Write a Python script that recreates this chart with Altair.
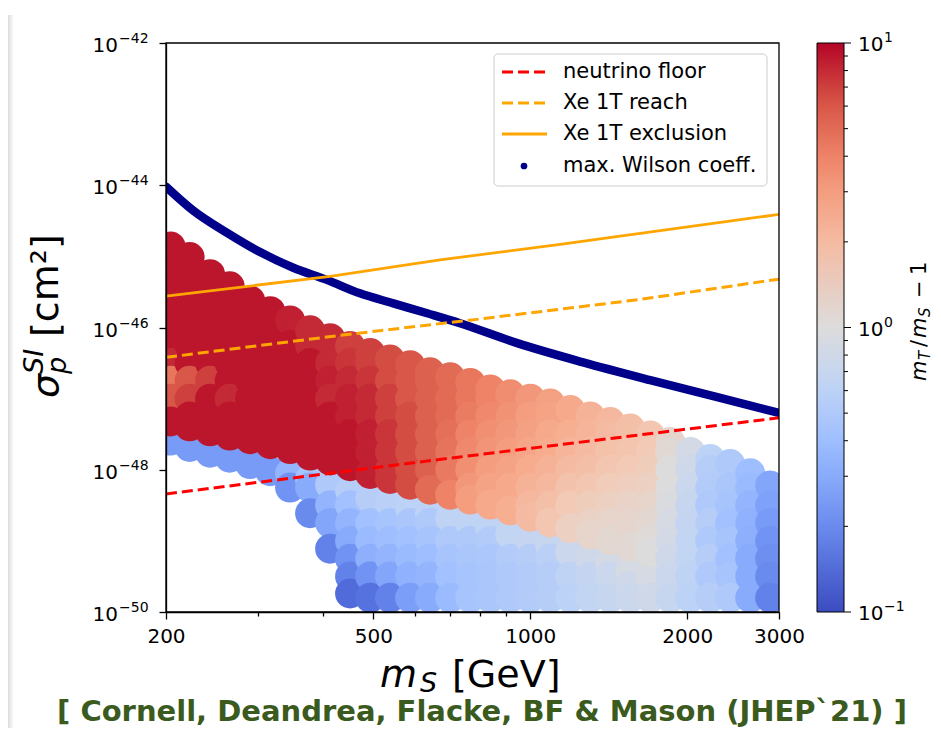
import altair as alt
import pandas as pd

# ---------------- data ----------------
# scatter columns (m_S in GeV); per column: sigma exponents (log10 cm^2) and colour value m_T/m_S - 1
col_m = [204, 222, 243, 265, 290, 317, 346, 378, 413, 451, 493, 538, 588, 642, 702, 767,
         838, 915, 1000, 1092, 1193, 1303, 1423, 1555, 1699, 1856, 2027, 2214, 2418, 2642, 2885]

upper_exp = [
    [-44.86, -45.0, -45.25, -45.5, -45.75, -46.0, -46.25, -46.5, -46.75, -47.0, -47.32],
    [-45.01, -45.25, -45.5, -45.75, -46.0, -46.25, -46.5, -46.75, -47.0, -47.25, -47.39],
    [-45.25, -45.5, -45.75, -46.0, -46.25, -46.5, -46.75, -47.0, -47.25, -47.46],
    [-45.42, -45.75, -46.0, -46.25, -46.5, -46.75, -47.0, -47.25, -47.52],
    [-45.62, -45.75, -46.0, -46.25, -46.5, -46.75, -47.0, -47.25, -47.57],
    [-45.77, -46.0, -46.25, -46.5, -46.75, -47.0, -47.25, -47.5, -47.64],
    [-45.90, -46.25, -46.5, -46.75, -47.0, -47.25, -47.5, -47.71],
    [-46.04, -46.25, -46.5, -46.75, -47.0, -47.25, -47.5, -47.80],
    [-46.15, -46.5, -46.75, -47.0, -47.25, -47.5, -47.75, -47.87],
    [-46.26, -46.5, -46.75, -47.0, -47.25, -47.5, -47.75, -47.95],
    [-46.36, -46.5, -46.75, -47.0, -47.25, -47.5, -47.75, -48.06],
    [-46.45, -46.75, -47.0, -47.25, -47.5, -47.75, -48.0, -48.13],
    [-46.53, -46.75, -47.0, -47.25, -47.5, -47.75, -48.0, -48.21],
    [-46.63, -46.75, -47.0, -47.25, -47.5, -47.75, -48.0, -48.28],
    [-46.70, -47.0, -47.25, -47.5, -47.75, -48.0, -48.35],
    [-46.78, -47.0, -47.25, -47.5, -47.75, -48.0, -48.25, -48.42],
    [-46.87, -47.0, -47.25, -47.5, -47.75, -48.0, -48.25, -48.49],
    [-46.94, -47.25, -47.5, -47.75, -48.0, -48.25, -48.57],
    [-47.0, -47.25, -47.5, -47.75, -48.0, -48.25, -48.5, -48.66],
    [-47.07, -47.25, -47.5, -47.75, -48.0, -48.25, -48.5, -48.74],
    [-47.16, -47.5, -47.75, -48.0, -48.25, -48.5, -48.82],
    [-47.25, -47.5, -47.75, -48.0, -48.25, -48.5, -48.75, -48.91],
    [-47.33, -47.5, -47.75, -48.0, -48.25, -48.5, -48.75, -48.99],
    [-47.42, -47.75, -48.0, -48.25, -48.5, -48.75, -49.08],
    [-47.52, -47.75, -48.0, -48.25, -48.5, -48.75, -49.0, -49.16],
    [-47.61, -47.75, -48.0, -48.25, -48.5, -48.75, -49.0, -49.25, -49.5, -49.8],
    [-47.75, -48.0, -48.25, -48.5, -48.75, -49.0, -49.25, -49.5, -49.8],
    [-47.85, -48.0, -48.25, -48.5, -48.75, -49.0, -49.25, -49.5, -49.8],
    [-47.92, -48.25, -48.5, -48.75, -49.0, -49.25, -49.5, -49.8],
    [-48.05, -48.25, -48.5, -48.75, -49.0, -49.25, -49.5, -49.8],
    [-48.22, -48.5, -48.75, -49.0, -49.25, -49.5, -49.8],
]
upper_val = [
    [9, 9, 9, 9, 9, 9, 9, 8, 4.5, 6, 9],
    [9, 9, 9, 9, 9, 9, 9, 6, 7, 9, 9],
    [9, 9, 9, 9, 9, 9, 7, 9, 9, 9],
    [9, 9, 9, 9, 9, 9, 8, 9, 9],
    [9, 9, 9, 9, 9, 9, 9, 9, 9],
    [9, 9, 9, 9, 9, 9, 9, 9, 9],
    [8.5, 9, 9, 9, 9, 9, 9, 9],
    [8, 8, 9, 9, 9, 9, 9, 9],
    [8, 8, 8.5, 8, 9, 9, 9, 9],
    [7, 7.5, 8, 8.5, 8.5, 9, 9, 9],
    [7, 7, 7.5, 8, 8, 8.5, 8.5, 8.5],
    [6.5, 6.5, 7, 7, 7.5, 7.5, 7.5, 7.5],
    [6, 6, 6, 6.5, 6.5, 6.5, 6.5, 6.5],
    [5.5, 5.5, 5.5, 5.5, 5.5, 5.5, 5.5, 5],
    [5, 5, 5, 4.8, 4.6, 4.4, 4],
    [4.5, 4.5, 4.3, 4, 3.8, 3.5, 3.2, 3],
    [4, 4, 3.8, 3.5, 3.3, 3, 2.8, 2.6],
    [3.6, 3.4, 3.2, 3, 2.8, 2.6, 2.4],
    [3.2, 3, 2.9, 2.7, 2.5, 2.3, 2.1, 2],
    [2.9, 2.8, 2.6, 2.5, 2.3, 2.1, 1.9, 1.7],
    [2.6, 2.4, 2.2, 2, 1.8, 1.6, 1.4],
    [2.3, 2.2, 2, 1.9, 1.7, 1.5, 1.35, 1.25],
    [2.1, 2, 1.85, 1.7, 1.55, 1.4, 1.25, 1.15],
    [1.9, 1.75, 1.6, 1.45, 1.3, 1.2, 1.1],
    [1.7, 1.6, 1.5, 1.4, 1.25, 1.15, 1.05, 1],
    [1.2, 1.1, 1, 1, 0.95, 0.9, 0.85, 0.8, 0.75, 0.7],
    [0.85, 0.8, 0.75, 0.7, 0.68, 0.65, 0.65, 0.62, 0.6],
    [0.6, 0.55, 0.52, 0.5, 0.55, 0.5, 0.55, 0.5, 0.55],
    [0.5, 0.47, 0.45, 0.42, 0.45, 0.42, 0.45, 0.5],
    [0.4, 0.38, 0.35, 0.33, 0.32, 0.3, 0.3, 0.3],
    [0.28, 0.26, 0.24, 0.22, 0.21, 0.2, 0.18],
]
lower_exp = [
    [-47.59], [-47.68], [-47.76], [-47.83], [-47.92], [-48.02],
    [-48.05, -48.25],
    [-48.13, -48.25, -48.61],
    [-48.21, -48.5, -48.75, -49.11],
    [-48.29, -48.5, -48.75, -49.0, -49.25, -49.5, -49.74],
    [-48.40, -48.75, -49.0, -49.25, -49.5, -49.8],
    [-48.47, -48.75, -49.0, -49.25, -49.5, -49.8],
    [-48.54, -48.75, -49.0, -49.25, -49.5, -49.8],
    [-48.61, -48.75, -49.0, -49.25, -49.5, -49.8],
    [-48.68, -49.0, -49.25, -49.5, -49.8],
    [-48.75, -49.0, -49.25, -49.5, -49.8],
    [-48.82, -49.0, -49.25, -49.5, -49.8],
    [-48.91, -49.25, -49.5, -49.8],
    [-48.99, -49.25, -49.5, -49.8],
    [-49.08, -49.25, -49.5, -49.8],
    [-49.16, -49.5, -49.8],
    [-49.25, -49.5, -49.8],
    [-49.33, -49.5, -49.8],
    [-49.42, -49.63, -49.8],
    [-49.50, -49.8],
    [], [], [], [], [], [],
]
lower_val = [
    [0.24], [0.24], [0.24], [0.24], [0.24], [0.24],
    [0.35, 0.22],
    [0.45, 0.3, 0.2],
    [0.5, 0.35, 0.28, 0.18],
    [0.55, 0.42, 0.35, 0.3, 0.22, 0.18, 0.14],
    [0.55, 0.42, 0.38, 0.32, 0.22, 0.15],
    [0.58, 0.45, 0.4, 0.35, 0.28, 0.18],
    [0.6, 0.47, 0.42, 0.38, 0.33, 0.25],
    [0.6, 0.5, 0.45, 0.4, 0.35, 0.3],
    [0.62, 0.5, 0.45, 0.42, 0.38],
    [0.62, 0.5, 0.47, 0.45, 0.45],
    [0.62, 0.52, 0.48, 0.47, 0.47],
    [0.65, 0.52, 0.5, 0.5],
    [0.68, 0.55, 0.52, 0.52],
    [0.7, 0.58, 0.55, 0.55],
    [0.75, 0.62, 0.6],
    [0.8, 0.68, 0.65],
    [0.85, 0.75, 0.7],
    [0.9, 0.8, 0.75],
    [0.9, 0.8],
    [], [], [], [], [], [],
]

wilson_m = [200, 225, 262, 303, 351, 407, 471, 546, 634, 733, 944, 1263, 1698, 2284, 3000]
wilson_e = [-44.02, -44.35, -44.67, -44.94, -45.16, -45.33, -45.52, -45.66, -45.80, -45.94,
            -46.22, -46.49, -46.74, -46.98, -47.20]
excl_m = [200, 413, 671, 1141, 3000]
excl_e = [-45.56, -45.28, -45.05, -44.83, -44.41]
reach_m = [200, 432, 801, 1606, 3000]
reach_e = [-46.42, -46.11, -45.88, -45.61, -45.32]
nu_m = [200, 733, 3000]
nu_e = [-48.34, -47.82, -47.27]

x_ticks = [200, 300, 400, 500, 600, 700, 800, 900, 1000, 2000, 3000]
x_labelled = [200, 500, 1000, 2000, 3000]
y_ticks = [-50, -48, -46, -44, -42]
y_tick_exp = ["−50", "−48", "−46", "−44", "−42"]
cbar_major = [0.1, 1, 10]
cbar_major_exp = ["−1", "0", "1"]
cbar_minor = [0.2, 0.3, 0.4, 0.5, 0.6, 0.7, 0.8, 0.9, 2, 3, 4, 5, 6, 7, 8, 9]

# matplotlib "coolwarm" sampled at 11 log-spaced stops between 0.1 and 10
cw_domain = [0.1, 0.1585, 0.2512, 0.3981, 0.631, 1, 1.585, 2.512, 3.981, 6.31, 10]
cw_range = ['#3b4cc0', '#5977e3', '#7b9ff9', '#9ebeff', '#c0d4f5', '#dddcdc',
            '#f2cbb7', '#f7ac8e', '#ee8468', '#d65244', '#b40426']

# ---------------- build tables ----------------
rows = []
k = 0
for i, m in enumerate(col_m):
    for e, v in zip(lower_exp[i], lower_val[i]):
        rows.append({"m": m, "e": e, "v": v, "k": k}); k += 1
for i, m in enumerate(col_m):
    for e, v in zip(upper_exp[i], upper_val[i]):
        rows.append({"m": m, "e": e, "v": v, "k": k}); k += 1
scat = pd.DataFrame(rows)

W, H = 613, 569
FONT = "DejaVu Sans"

xscale = alt.Scale(type="log", domain=[200, 3000], nice=False)
yscale = alt.Scale(domain=[-50, -42], nice=False, zero=False)
cbscale = alt.Scale(type="log", domain=[0.1, 10], nice=False)

lab_test = "indexof([200,500,1000,2000,3000], datum.value) >= 0"
xaxis = alt.Axis(values=x_ticks, title=None, grid=False,
                 labelExpr=lab_test + " ? toString(datum.value) : ''",
                 tickSize={"condition": {"test": lab_test, "value": 7}, "value": 4},
                 labelFont=FONT, labelFontSize=20, labelColor="black", labelPadding=7,
                 tickColor="black", tickWidth=1.3, domainColor="black", domainWidth=1.3,
                 labelFlush=False, zindex=1)
yaxis = alt.Axis(values=y_ticks, title=None, grid=False, labels=False,
                 tickSize=7, tickColor="black", tickWidth=1.3, domainColor="black",
                 domainWidth=1.3, zindex=1)

scatter = alt.Chart(scat).mark_circle(size=900, opacity=1, clip=True).encode(
    x=alt.X("m:Q", scale=xscale, axis=xaxis),
    y=alt.Y("e:Q", scale=yscale, axis=yaxis),
    color=alt.Color("v:Q",
                    scale=alt.Scale(type="log", domain=cw_domain, range=cw_range,
                                    interpolate="rgb", clamp=True),
                    legend=alt.Legend(orient="none", legendX=651, legendY=0, direction="vertical",
                                      gradientLength=H, gradientThickness=27, title=None,
                                      values=cbar_major, labelExpr="''",
                                      gradientStrokeColor="black", gradientStrokeWidth=1)),
    order=alt.Order("k:Q"),
)


def curve(ms, es, **kw):
    df = pd.DataFrame({"m": ms, "e": es})
    return alt.Chart(df).mark_line(clip=True, **kw).encode(
        x=alt.X("m:Q", scale=xscale), y=alt.Y("e:Q", scale=yscale, axis=None))


wilson = curve(wilson_m, wilson_e, color="#00008b", strokeWidth=8.5, strokeCap="round",
               interpolate="monotone")
nu = curve(nu_m, nu_e, color="#ff0000", strokeWidth=3, strokeDash=[11, 5])
reach = curve(reach_m, reach_e, color="#ffa500", strokeWidth=3, strokeDash=[11, 5])
excl = curve(excl_m, excl_e, color="#ffa500", strokeWidth=2.8)

# y tick labels 10^{-n}, placed through the y scale
ylab_df = pd.DataFrame({"e": y_ticks, "ex": y_tick_exp})
ylab_base = alt.Chart(ylab_df).mark_text(text="10", align="right", baseline="alphabetic", dy=9,
                                         font=FONT, fontSize=20, color="black").encode(
    y=alt.Y("e:Q", scale=yscale, axis=None), x=alt.value(-48))
ylab_exp = alt.Chart(ylab_df).mark_text(align="left", baseline="alphabetic", dy=0,
                                        font=FONT, fontSize=14, color="black").encode(
    y=alt.Y("e:Q", scale=yscale, axis=None), x=alt.value(-47), text="ex:N")

# colour-bar ticks and labels, placed through a log scale matching the colour domain
cb_minor = alt.Chart(pd.DataFrame({"c": cbar_minor})).mark_rule(color="black", strokeWidth=1).encode(
    y=alt.Y("c:Q", scale=cbscale, axis=None), x=alt.value(678), x2=alt.value(682))
cbl_df = pd.DataFrame({"c": cbar_major, "ex": cbar_major_exp})
cb_major = alt.Chart(cbl_df).mark_rule(color="black", strokeWidth=1).encode(
    y=alt.Y("c:Q", scale=cbscale, axis=None), x=alt.value(678), x2=alt.value(685))
cb_base = alt.Chart(cbl_df).mark_text(text="10", align="left", baseline="alphabetic", dy=8,
                                      font=FONT, fontSize=20, color="black").encode(
    y=alt.Y("c:Q", scale=cbscale, axis=None), x=alt.value(692))
cb_exp = alt.Chart(cbl_df).mark_text(align="left", baseline="alphabetic", dy=-1,
                                     font=FONT, fontSize=14, color="black").encode(
    y=alt.Y("c:Q", scale=cbscale, axis=None), x=alt.value(718), text="ex:N")

one = pd.DataFrame({"a": [0]})


def txt(x, y, s, size, italic=False, angle=0, align="left", baseline="alphabetic",
        font=FONT, weight="normal", color="black"):
    return alt.Chart(one).mark_text(text=s, fontSize=size, font=font,
                                    fontStyle="italic" if italic else "normal",
                                    angle=angle, align=align, baseline=baseline,
                                    fontWeight=weight, color=color).encode(
        x=alt.value(x), y=alt.value(y))


def hrule(x1, x2, y, color, dash=None, width=3):
    kw = {"color": color, "strokeWidth": width}
    if dash:
        kw["strokeDash"] = dash
    return alt.Chart(one).mark_rule(**kw).encode(x=alt.value(x1), x2=alt.value(x2), y=alt.value(y))


legend_box = alt.Chart(one).mark_rect(cornerRadius=4, fill="white", fillOpacity=0.85,
                                      stroke="#cccccc", strokeWidth=1).encode(
    x=alt.value(328), x2=alt.value(601), y=alt.value(11), y2=alt.value(143))
leg = [
    legend_box,
    hrule(336, 381, 29, "#ff0000", [11, 5]),
    hrule(336, 381, 60, "#ffa500", [11, 5]),
    hrule(336, 381, 91, "#ffa500", None, 2.8),
    alt.Chart(one).mark_circle(size=45, color="#00008b", opacity=1).encode(
        x=alt.value(358), y=alt.value(123)),
    txt(397, 29, "neutrino floor", 21, baseline="middle"),
    txt(397, 60, "Xe 1T reach", 21, baseline="middle"),
    txt(397, 91, "Xe 1T exclusion", 21, baseline="middle"),
    txt(397, 123, "max. Wilson coeff.", 21, baseline="middle"),
]

frame = alt.Chart(one).mark_rect(fillOpacity=0, stroke="black", strokeWidth=1.3).encode(
    x=alt.value(0), x2=alt.value(W), y=alt.value(0), y2=alt.value(H))

# slide shadow along the left edge
shadow = alt.Chart(one).mark_rect(
    fill=alt.Gradient(gradient="linear", x1=0, x2=1, y1=0, y2=0,
                      stops=[alt.GradientStop(color="#dcdcdc", offset=0),
                             alt.GradientStop(color="#ffffff", offset=1)])).encode(
    x=alt.value(-158), x2=alt.value(-152), y=alt.value(-28), y2=alt.value(685))

titles = [
    # x title  m_S [GeV]
    txt(214, 644, "m", 38, italic=True),
    txt(254, 649, "S", 27, italic=True),
    txt(286, 644, "[GeV]", 38),
    # y title  sigma_p^SI [cm^2]
    txt(-108, 355, "σ", 38, italic=True, angle=270),
    txt(-100, 331, "p", 27, italic=True, angle=270),
    txt(-123, 331, "SI", 27, italic=True, angle=270),
    txt(-108, 294, "[cm²]", 38, angle=270),
    # colour bar title  m_T/m_S - 1
    txt(760, 338, "m", 21, italic=True, angle=270),
    txt(764, 317, "T", 15, italic=True, angle=270),
    txt(760, 304, "/", 21, angle=270),
    txt(760, 295, "m", 21, italic=True, angle=270),
    txt(764, 274, "S", 15, italic=True, angle=270),
    txt(760, 255, "−", 21, angle=270),
    txt(760, 232, "1", 21, angle=270),
    # citation
    txt(316, 678, "[ Cornell, Deandrea, Flacke, BF & Mason (JHEP`21) ]", 29,
        align="center", font="DejaVu Sans", weight="bold", color="#3b5a1e"),
]

chart = alt.layer(shadow, scatter, wilson, nu, reach, excl, ylab_base, ylab_exp,
                  cb_minor, cb_major, cb_base, cb_exp,
                  *leg, frame, *titles).resolve_scale(y="independent").properties(
    width=W, height=H,
    autosize=alt.AutoSizeParams(type="none"),
    padding={"left": 158, "top": 35, "right": 154, "bottom": 116},
    background="white",
).configure_view(stroke="transparent")

chart.save("out.html", embed_options={"renderer": "svg", "actions": False})
